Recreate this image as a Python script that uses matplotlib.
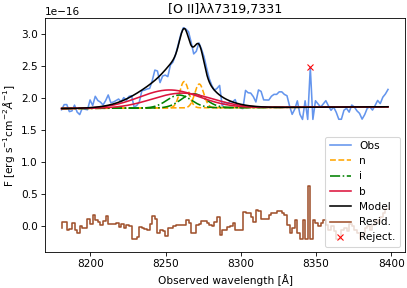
import numpy as np
import matplotlib
matplotlib.use("Agg")
import matplotlib.pyplot as plt

# wavelength grid of the spectrum
wave_start = 8181.0
wave_step = 1.72

# residuals (obs - model), units of 1e-16
resid = [-0.02, 0.06, 0.06, -0.05, -0.04, 0.05, -0.06, -0.10, 0.00, -0.02,
         -0.03, 0.12, 0.03, 0.17, 0.10, 0.07, 0.02, 0.08, 0.16, 0.03,
         0.03, 0.04, 0.05, -0.01, 0.04, -0.02, 0.02, 0.01, -0.19, -0.19,
         -0.16, -0.01, -0.03, -0.04, -0.06, 0.03, 0.16, 0.11, -0.11, -0.05,
         -0.08, -0.15, -0.02, -0.03, 0.00, 0.02, 0.02, 0.02, 0.02, 0.10,
         0.05, -0.11, -0.11, 0.02, 0.03, 0.09, 0.09, 0.05, 0.02, 0.00,
         0.07, 0.15, -0.14, -0.06, -0.06, -0.01, 0.00, 0.05, -0.06, -0.06,
         -0.06, 0.23, 0.20, 0.20, 0.15, 0.07, 0.26, 0.24, 0.11, 0.11,
         0.11, 0.17, 0.20, 0.20, 0.24, 0.24, 0.20, 0.18, 0.02, -0.11,
         -0.03, 0.10, -0.11, -0.19, 0.10, -0.19, 0.62, -0.19, 0.10, 0.05,
         0.00, 0.05, 0.10, 0.02, -0.05, 0.00, -0.08, -0.19, -0.19, -0.05,
         -0.02, -0.08, 0.03, 0.00, -0.06, -0.10, -0.19, -0.12, -0.02, 0.00,
         -0.05, 0.02, 0.10, 0.05, 0.15, 0.20, 0.27]

# linear continuum: value at two wavelengths
cont_wave = [8190.0, 8390.0]
cont_val = [1.834, 1.859]

# gaussian components: centre, amplitude (1e-16), sigma
n_cen = [8262.4, 8272.4]
n_amp = [0.41, 0.37]
n_sig = [3.0, 3.0]
i_cen = [8259.0, 8268.5]
i_amp = [0.20, 0.22]
i_sig = [8.0, 8.0]
b_cen = [8252.5, 8261.0]
b_amp = [0.28, 0.23]
b_sig = [20.0, 20.0]

reject_idx = [96]

scale = 1e-16


def gauss(x, c, a, s):
    return a * np.exp(-0.5 * ((x - c) / s) ** 2)


wave = wave_start + wave_step * np.arange(len(resid))
xf = np.linspace(wave[0], wave[-1], 600)
slope = (cont_val[1] - cont_val[0]) / (cont_wave[1] - cont_wave[0])
cont = cont_val[0] + slope * (xf - cont_wave[0])
cont_obs = cont_val[0] + slope * (wave - cont_wave[0])

comps = {'n': (n_cen, n_amp, n_sig), 'i': (i_cen, i_amp, i_sig), 'b': (b_cen, b_amp, b_sig)}
model_f = cont.copy()
model_obs = cont_obs.copy()
for cen, amp, sig in comps.values():
    for c, a, s in zip(cen, amp, sig):
        model_f += gauss(xf, c, a, s)
        model_obs += gauss(wave, c, a, s)
obs = model_obs + np.array(resid)

fig = plt.figure(figsize=(407 / 76, 288 / 76), dpi=76)
ax = fig.add_axes([0.1106, 0.125, 0.8845, 0.811])

ax.plot(wave, obs * scale, color='cornflowerblue', lw=1.5, label='Obs')
styles = {'n': ('orange', '--'), 'i': ('green', '-.'), 'b': ('crimson', '-')}
for key, (cen, amp, sig) in comps.items():
    col, ls = styles[key]
    for j, (c, a, s) in enumerate(zip(cen, amp, sig)):
        ax.plot(xf, (cont + gauss(xf, c, a, s)) * scale, color=col, ls=ls, lw=1.5,
                label=key if j == 0 else None)
ax.plot(xf, model_f * scale, color='black', lw=1.5, label='Model')
ax.step(wave, np.array(resid) * scale, where='pre', color='sienna', lw=1.5, label='Resid.')
ax.plot(wave[reject_idx], obs[reject_idx] * scale, 'x', color='red', label='Reject.')

ax.set_xlim(8170, 8409)
ax.set_ylim(-0.40e-16, 3.235e-16)
ax.set_title('[O II]λλ7319,7331', pad=5)
ax.set_xlabel('Observed wavelength [Å]')
ax.set_ylabel(r'F [erg s$^{-1}$cm$^{-2}$$\AA^{-1}$]')
ax.legend(loc='lower right')

fig.savefig('out.png', dpi=76)
